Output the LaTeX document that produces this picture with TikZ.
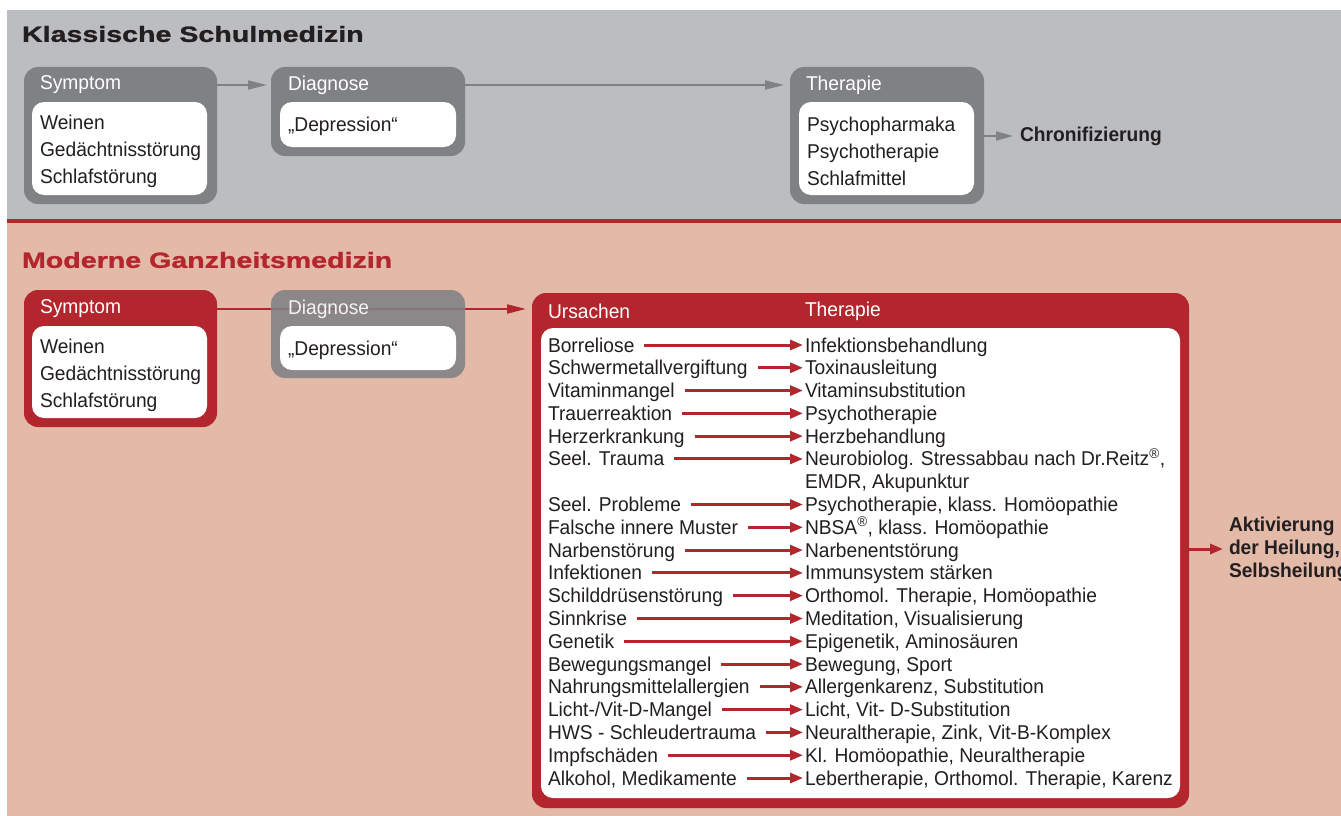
\documentclass[tikz,border=0pt]{standalone}
\usepackage{fontspec}
\setmainfont{Liberation Sans}[FakeStretch=0.96]
\newfontfamily\headfont{Liberation Sans}[FakeStretch=1.3,FakeBold=1.2]
\usetikzlibrary{arrows.meta,positioning}
\definecolor{BandGray}{HTML}{BCBDC0}
\definecolor{BoxGray}{HTML}{808184}
\definecolor{CureRed}{HTML}{B3262E}
\definecolor{CurePink}{HTML}{E3B9A8}
\definecolor{TextDark}{HTML}{231F20}
\newcommand\boxfont{\fontsize{20}{27}\selectfont}
\newcommand\listfont{\fontsize{20}{23}\selectfont}
\newcommand\titlefont{\headfont\bfseries\fontsize{22}{26}\selectfont}

\begin{document}
\begin{tikzpicture}[x=1pt,y=-1pt,
    every node/.style={inner sep=0pt,outer sep=0pt},
    graybox/.style={fill=BoxGray,rounded corners=14pt,anchor=north west},
    redbox/.style={fill=CureRed,rounded corners=14pt,anchor=north west},
    whitebox/.style={fill=white,rounded corners=12pt,anchor=north west},
    boxtext/.style={text=TextDark,font=\boxfont,align=left,anchor=west},
    headtext/.style={text=white,font=\boxfont,anchor=west},
    rowtext/.style={text=TextDark,font=\boxfont,anchor=base west,text height=14pt,text depth=0pt},
    grayarrow/.style={draw=BoxGray,line width=2pt,-{Triangle[length=19pt,width=9pt]}},
    redarrow/.style={draw=CureRed,line width=3pt,-{Triangle[length=13pt,width=10pt]}}]
  \useasboundingbox (0,0) rectangle (1341,816);
  \fill[BandGray] (7,10) rectangle (1341,221);
  \fill[CurePink] (7,221) rectangle (1341,816);
  \draw[CureRed,line width=4pt] (7,221) -- (1341,221);

  % klassische Schulmedizin
  \node[font=\titlefont,text=TextDark,anchor=west] (klass) at (22,34) {Klassische Schulmedizin};
  \node[graybox,minimum width=193pt,minimum height=137pt] (sym1) at (24,67) {};
  \node[headtext] (sym1h) at (40,85) {Symptom};
  \node[whitebox,minimum width=175pt,minimum height=93pt] (sym1w) at (32,102) {};
  \node[boxtext] (sym1t) at ([xshift=8pt,yshift=-3pt]sym1w.west) {Weinen\\Gedächtnisstörung\\Schlafstörung};
  \node[graybox,minimum width=194pt,minimum height=89pt] (dia1) at (271,67) {};
  \node[headtext] (dia1h) at (288,85) {Diagnose};
  \node[whitebox,minimum width=176pt,minimum height=45pt] (dia1w) at (280,102) {};
  \node[boxtext] (dia1t) at ([xshift=8pt,yshift=-2pt]dia1w.west) {„Depression“};
  \node[graybox,minimum width=194pt,minimum height=137pt] (ther1) at (790,67) {};
  \node[headtext] (ther1h) at (806,85) {Therapie};
  \node[whitebox,minimum width=175pt,minimum height=93pt] (ther1w) at (799,102) {};
  \node[boxtext] (ther1t) at ([xshift=8pt,yshift=-3pt]ther1w.west) {Psychopharmaka\\Psychotherapie\\Schlafmittel};
  \node[font=\boxfont\bfseries,text=TextDark,anchor=west] (chron) at (1020,136) {Chronifizierung};
  \draw[grayarrow,shorten >=4pt] (sym1.east |- sym1h) -- (dia1.west |- sym1h);
  \draw[grayarrow,shorten >=6pt] (dia1.east |- sym1h) -- (ther1.west |- sym1h);
  \draw[grayarrow,-{Triangle[length=17pt,width=9pt]}] (ther1.east |- chron) -- ([xshift=-7pt]chron.west);

  % moderne Ganzheitsmedizin
  \node[font=\titlefont,text=CureRed,anchor=west] (modern) at (22,260) {Moderne Ganzheitsmedizin};
  \node[redbox,minimum width=193pt,minimum height=137pt] (sym2) at (24,290) {};
  \node[headtext] (sym2h) at (40,309) {Symptom};
  \node[whitebox,minimum width=175pt,minimum height=92pt] (sym2w) at (32,326) {};
  \node[boxtext] (sym2t) at ([xshift=8pt,yshift=-3pt]sym2w.west) {Weinen\\Gedächtnisstörung\\Schlafstörung};
  \node[redbox,minimum width=657pt,minimum height=515pt] (cause) at (532,293) {};
  \node[headtext] (ursh) at (548,311) {Ursachen};
  \node[headtext] (ther2h) at (805,311) {Therapie};
  \node[whitebox,minimum width=639pt,minimum height=470pt] (causew) at (541,328) {};
  \foreach \i/\u/\t in {0/Borreliose/Infektionsbehandlung,
      1/Schwermetallvergiftung/Toxinausleitung,
      2/Vitaminmangel/Vitaminsubstitution,
      3/Trauerreaktion/Psychotherapie,
      4/Herzerkrankung/Herzbehandlung,
      5/{Seel. Trauma}/{Neurobiolog. Stressabbau nach Dr.Reitz\textsuperscript{\textregistered},},
      7/{Seel. Probleme}/{Psychotherapie, klass. Homöopathie},
      8/{Falsche innere Muster}/{NBSA\textsuperscript{\textregistered}, klass. Homöopathie},
      9/Narbenstörung/Narbenentstörung,
      10/Infektionen/{Immunsystem stärken},
      11/Schilddrüsenstörung/{Orthomol. Therapie, Homöopathie},
      12/Sinnkrise/{Meditation, Visualisierung},
      13/Genetik/{Epigenetik, Aminosäuren},
      14/Bewegungsmangel/{Bewegung, Sport},
      15/Nahrungsmittelallergien/{Allergenkarenz, Substitution},
      16/{Licht-/Vit-D-Mangel}/{Licht, Vit- D-Substitution},
      17/{HWS - Schleudertrauma}/{Neuraltherapie, Zink, Vit-B-Komplex},
      18/Impfschäden/{Kl. Homöopathie, Neuraltherapie},
      19/{Alkohol, Medikamente}/{Lebertherapie, Orthomol. Therapie, Karenz}} {
    \node[rowtext] (u\i) at (548,352+22.79*\i) {\u};
    \node[rowtext] (t\i) at (805,352+22.79*\i) {\t};
    \draw[redarrow,shorten >=2pt] ([xshift=10pt]u\i.east) -- (u\i.east -| t\i.west);
  }
  \node[rowtext] (t5b) at ([yshift=-22.79pt]t5.base west) {EMDR, Akupunktur};
  \node[font=\listfont\bfseries,text=TextDark,align=left,anchor=west] (heal) at (1229,549)
    {Aktivierung\\der Heilung,\\Selbsheilung};
  \draw[redarrow] (cause.east |- heal.west) -- ([xshift=-6pt]heal.west);
  \draw[draw=CureRed,line width=2pt,-{Triangle[length=19pt,width=9pt]},shorten >=6pt]
    (sym2.east |- sym2h) -- (cause.west |- sym2h);
  \node[graybox,fill opacity=0.88,minimum width=194pt,minimum height=88pt] (dia2) at (271,290) {};
  \node[headtext,text opacity=0.9] (dia2h) at (288,309) {Diagnose};
  \node[whitebox,minimum width=176pt,minimum height=44pt] (dia2w) at (280,326) {};
  \node[boxtext] (dia2t) at ([xshift=8pt,yshift=-2pt]dia2w.west) {„Depression“};
\end{tikzpicture}
\end{document}
